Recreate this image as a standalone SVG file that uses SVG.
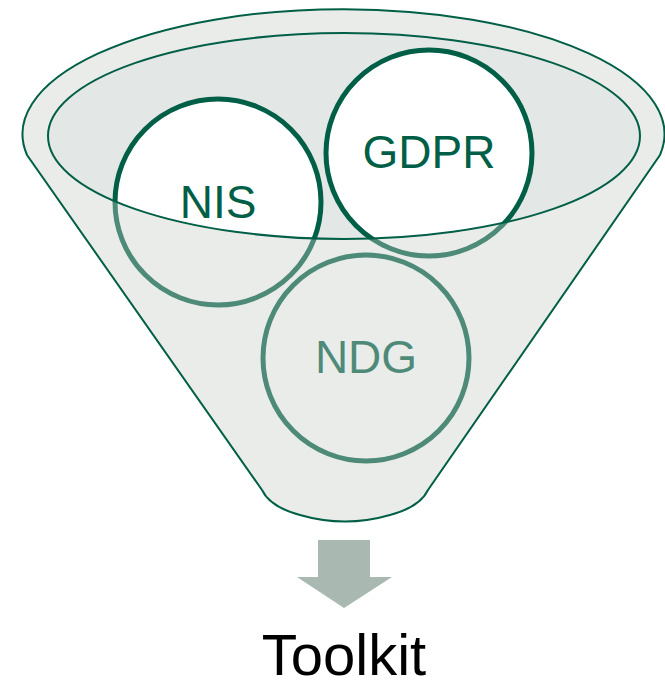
<svg xmlns="http://www.w3.org/2000/svg" width="665" height="688" viewBox="0 0 665 688">
<style>
.ring{fill:#ffffff;stroke:#005f46;stroke-width:5}
.lbl{font-family:"Liberation Sans",Arial,sans-serif;font-size:46px;fill:#005f46;text-anchor:middle}
.edge{fill:none;stroke:#005f46;stroke-width:2}
</style>
<rect width="665" height="688" fill="#ffffff"/>
<g id="funnel-back">
<ellipse cx="344" cy="136" rx="296" ry="103" fill="#e3e7e6"/>
</g>
<g id="nis">
<circle class="ring" cx="218" cy="202" r="103"/>
<text class="lbl" x="218" y="218">NIS</text>
</g>
<g id="gdpr">
<circle class="ring" cx="429" cy="153" r="103"/>
<text class="lbl" x="429" y="168">GDPR</text>
</g>
<g id="ndg">
<circle class="ring" cx="366" cy="358" r="103"/>
<text class="lbl" x="366" y="373">NDG</text>
</g>
<g id="funnel">
<path fill="#c8cdc9" fill-opacity="0.39" fill-rule="evenodd" d="M27,155 A321,125 0 1 1 660,155 L428,490 Q420,507 390,515 Q345,528 300,515 Q270,507 262,490 Z M48,136 A296,103 0 1 0 640,136 A296,103 0 1 0 48,136 Z"/>
<path class="edge" d="M27,155 A321,125 0 1 1 660,155 L428,490 Q420,507 390,515 Q345,528 300,515 Q270,507 262,490 Z"/>
<ellipse class="edge" cx="344" cy="136" rx="296" ry="103"/>
</g>
<g id="connectors">
<polygon fill="#a9b8b0" points="318,540 370,540 370,577 392,577 344,608 297,577 318,577"/>
</g>
<g id="toolkit">
<text x="344" y="675" font-family="'Liberation Sans',Arial,sans-serif" font-size="58" fill="#000000" text-anchor="middle">Toolkit</text>
</g>
</svg>
